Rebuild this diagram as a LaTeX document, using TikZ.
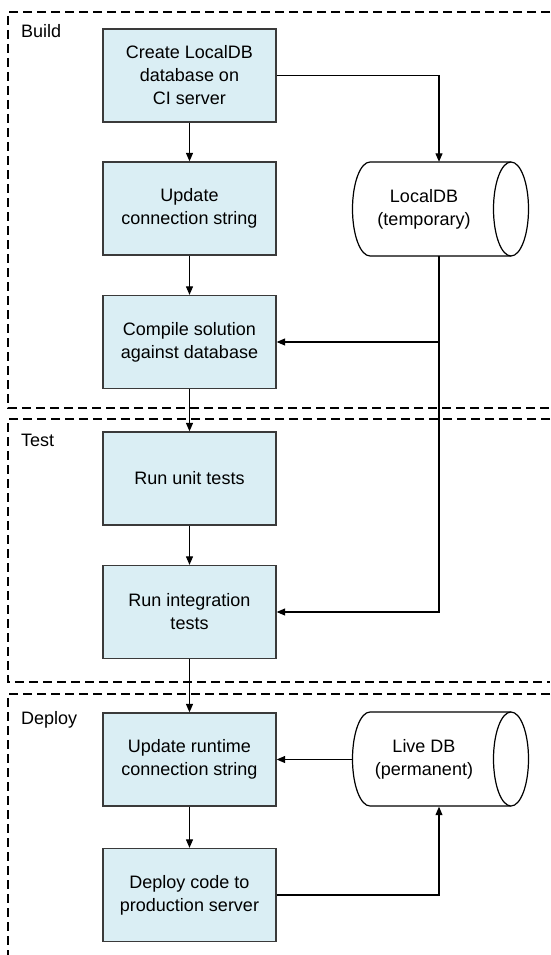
\documentclass[tikz,border=0pt]{standalone}
\usepackage{fontspec}
\setmainfont{Liberation Sans}
\usetikzlibrary{arrows.meta}
\definecolor{boxfill}{HTML}{DAEEF4}
\definecolor{boxline}{HTML}{3A3A3A}
\begin{document}
\begin{tikzpicture}[x=1pt,y=-1pt,
  stepbox/.style={draw=boxline, line width=1.3pt, fill=boxfill, minimum width=173pt, minimum height=93pt, align=center, inner sep=0pt, font=\fontsize{18}{23}\selectfont},
  conn/.style={line width=1.1pt, -{Triangle[length=8.5pt,width=7pt]}},
  region/.style={line width=1.2pt, dash pattern=on 9pt off 5pt},
  dbanchor/.style={minimum width=172pt, minimum height=94pt, inner sep=0pt},
  dbline/.style={line width=1.2pt, fill=white},
  dbtext/.style={align=center, inner sep=0pt, font=\fontsize{18}{23}\selectfont},
  lbl/.style={anchor=base west, inner sep=0pt, font=\fontsize{18}{23}\selectfont}]
\useasboundingbox (0,0) rectangle (550,955);

% regions
\draw[region] (550,12) -- (8,12) -- (8,408) -- (550,408);
\draw[region] (550,419) -- (8,419) -- (8,682) -- (550,682);
\draw[region] (550,694) -- (8,694) -- (8,955);
\node[lbl] (lbuild) at (21,38) {Build};
\node[lbl] (ltest) at (21,446) {Test};
\node[lbl] (ldeploy) at (21,724) {Deploy};

% steps
\node[stepbox] (b1) at (189.5,75.5) {Create LocalDB\\database on\\CI server};
\node[stepbox] (b2) at (189.5,208.5) {Update\\connection string};
\node[stepbox] (b3) at (189.5,342) {Compile solution\\against database};
\node[stepbox] (b4) at (189.5,478.5) {Run unit tests};
\node[stepbox] (b5) at (189.5,612) {Run integration\\tests};
\node[stepbox] (b6) at (189.5,759.5) {Update runtime\\connection string};
\node[stepbox] (b7) at (189.5,895) {Deploy code to\\production server};

% databases
\draw[dbline] (511,162) -- (370,162) arc[start angle=90, end angle=270, x radius=17.5pt, y radius=47pt] -- (511,256);
\draw[dbline] (511,209) ellipse [x radius=17.5pt, y radius=47pt];
\node[dbanchor] (ldb) at (439,209) {};
\node[dbtext] (ldbt) at (424,209) {LocalDB\\(temporary)};

\draw[dbline] (511,712) -- (370,712) arc[start angle=90, end angle=270, x radius=17.5pt, y radius=47pt] -- (511,806);
\draw[dbline] (511,759) ellipse [x radius=17.5pt, y radius=47pt];
\node[dbanchor] (live) at (439,759.5) {};
\node[dbtext] (livet) at (424,759) {Live DB\\(permanent)};

% connectors
\draw[conn] (b1) -- (b2);
\draw[conn] (b2) -- (b3);
\draw[conn] (b3) -- (b4);
\draw[conn] (b4) -- (b5);
\draw[conn] (b5) -- (b6);
\draw[conn] (b6) -- (b7);
\draw[conn] (b1.east) -- (b1.east -| ldb.north) -- (ldb.north);
\draw[conn] (ldb.south) -- (ldb.south |- b5.east) -- (b5.east);
\draw[conn] (ldb.south |- b3.east) -- (b3.east);
\draw[conn] (live.west) -- (b6.east);
\draw[conn] (b7.east) -- (b7.east -| live.south) -- (live.south);
\end{tikzpicture}
\end{document}
